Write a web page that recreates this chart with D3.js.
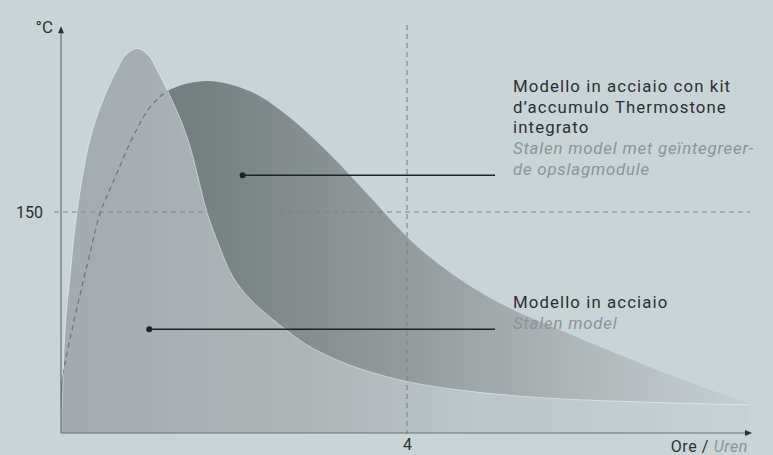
<!DOCTYPE html>
<html>
<head>
<meta charset="utf-8">
<script src="https://cdn.jsdelivr.net/npm/d3@7"></script>
<style>
  html, body { margin: 0; padding: 0; background: #c9d4d6; }
  svg { display: block; font-family: Roboto, "Noto Sans", sans-serif; }
  .it { fill: #2b3032; letter-spacing: 1.1px; }
  .nl { fill: #8a9496; font-style: italic; letter-spacing: 0.8px; }
</style>
</head>
<body>
<div class="chart"></div>
<script>
// steel stove (Modello in acciaio)
var steelHours = [0, 0.023, 0.046, 0.104, 0.185, 0.335, 0.486, 0.659, 0.74, 0.879, 1.017, 1.087, 1.283, 1.468, 1.688, 1.803, 1.988, 2.185, 2.451, 2.763, 2.96, 3.341, 3.92, 4.497, 5.31, 6.231, 7.96];
var steelTemp  = [0, 36, 70, 106, 150, 199, 226, 248, 256, 261, 256, 249, 226, 199, 150, 131, 106, 91, 77, 63, 56, 46, 36, 30, 25, 22, 19];

// steel stove with Thermostone kit
var stoneHours = [0, 0.127, 0.335, 0.451, 0.601, 0.832, 1.029, 1.26, 1.688, 2.185, 2.647, 3.11, 3.607, 4.035, 4.497, 5.075, 5.769, 6.462, 7.19, 7.96];
var stoneTemp  = [34, 70, 122, 149, 170, 201, 221, 233, 239, 232, 214, 189, 158, 131, 109, 88, 70, 53, 36, 20];

var yTicks = [150];
var xTicks = [4];

var stoneLabel = ["Modello in acciaio con kit", "d’accumulo Thermostone", "integrato"];
var stoneLabelNl = ["Stalen model met geïntegreer-", "de opslagmodule"];
var steelLabel = ["Modello in acciaio"];
var steelLabelNl = ["Stalen model"];

// leader start points [hours, temp]
var stonePointer = [2.1, 175];
var steelPointer = [1.02, 70.5];

var svgWidth = 773;
var svgHeight = 455;

var svg = d3.select(".chart")
  .append("svg")
  .attr("width", svgWidth)
  .attr("height", svgHeight);

var x = d3.scaleLinear().domain([0, 8]).range([61, 753]);
var y = d3.scaleLinear().domain([0, 280]).range([433, 20.5]);

var steel = steelHours.map((h, i) => ({h: h, t: steelTemp[i]}));
var stone = stoneHours.map((h, i) => ({h: h, t: stoneTemp[i]}));

var defs = svg.append("defs");

function grad(id, stops) {
  var g = defs.append("linearGradient")
    .attr("id", id)
    .attr("gradientUnits", "userSpaceOnUse")
    .attr("x1", x(0)).attr("x2", x(8))
    .attr("y1", 0).attr("y2", 0);
  stops.forEach(s => g.append("stop").attr("offset", s[0]).attr("stop-color", s[1]));
}
grad("stoneFill", [[0, "#727a7c"], [0.2, "#778081"], [0.5, "#939b9d"], [0.75, "#afb7b9"], [1, "#c6cfd1"]]);
grad("steelFill", [[0, "#a3abae"], [0.35, "#adb5b7"], [0.6, "#bcc5c7"], [1, "#c8d2d4"]]);

var curve = d3.curveCatmullRom.alpha(0.5);

var area = d3.area()
  .x(d => x(d.h))
  .y0(y(0))
  .y1(d => y(d.t))
  .curve(curve);

var line = d3.line()
  .x(d => x(d.h))
  .y(d => y(d.t))
  .curve(curve);

defs.append("clipPath").attr("id", "steelClip")
  .append("path").attr("d", area(steel));

svg.append("path")
  .attr("d", area(stone))
  .attr("fill", "url(#stoneFill)");

svg.append("path")
  .attr("d", area(steel))
  .attr("fill", "url(#steelFill)");

svg.append("path")
  .attr("d", line(steel))
  .attr("fill", "none")
  .attr("stroke", "rgba(255,255,255,0.45)")
  .attr("stroke-width", 1);

// hidden rising part of the thermostone curve
svg.append("path")
  .attr("d", line(stone))
  .attr("clip-path", "url(#steelClip)")
  .attr("fill", "none")
  .attr("stroke", "#6f7779")
  .attr("stroke-width", 1.3)
  .attr("stroke-dasharray", "5,4");

// reference lines
svg.selectAll(".hline").data(yTicks).enter().append("line")
  .attr("x1", 54).attr("x2", 750)
  .attr("y1", d => y(d)).attr("y2", d => y(d))
  .attr("stroke", "#7c8486").attr("stroke-width", 1.1)
  .attr("stroke-dasharray", "5,4");

svg.selectAll(".vline").data(xTicks).enter().append("line")
  .attr("x1", d => x(d)).attr("x2", d => x(d))
  .attr("y1", 25).attr("y2", 434)
  .attr("stroke", "#7c8486").attr("stroke-width", 1.1)
  .attr("stroke-dasharray", "5,4");

// axes
var bottomAxis = d3.axisBottom(x).tickValues(xTicks).tickSize(0).tickSizeOuter(0).tickPadding(6);
var leftAxis = d3.axisLeft(y).tickValues(yTicks).tickSize(0).tickSizeOuter(0).tickPadding(18);

var gx = svg.append("g").attr("transform", `translate(0,${y(0)})`).call(bottomAxis);
var gy = svg.append("g").attr("transform", `translate(${x(0)},0)`).call(leftAxis);

gx.select(".domain").attr("d", `M${x(0)},0H${x(7.92)}`);
gy.select(".domain").attr("d", `M0,${y(0)}V${y(272)}`);
[gx, gy].forEach(g => {
  g.select(".domain").attr("stroke", "#6a7274").attr("stroke-width", 1.2);
  g.selectAll("text").attr("fill", "#2b3032").attr("font-size", 16)
    .attr("font-family", "Roboto, sans-serif");
});

// arrow heads
svg.append("path")
  .attr("d", `M${x(0) - 3},${y(272) + 1}L${x(0)},${y(272) - 6}L${x(0) + 3},${y(272) + 1}Z`)
  .attr("fill", "#2b3032");
svg.append("path")
  .attr("d", `M${x(7.92) - 1},${y(0) - 3}L${x(7.92) + 6},${y(0)}L${x(7.92) - 1},${y(0) + 3}Z`)
  .attr("fill", "#2b3032");

svg.append("text")
  .attr("x", 53).attr("y", 33)
  .attr("text-anchor", "end")
  .attr("font-size", 17)
  .attr("fill", "#2b3032")
  .text("°C");

var xLabel = svg.append("text")
  .attr("x", 748).attr("y", 452)
  .attr("text-anchor", "end")
  .attr("font-size", 16);
xLabel.append("tspan").attr("class", "it").style("letter-spacing", "0.6px").text("Ore / ");
xLabel.append("tspan").attr("class", "nl").style("letter-spacing", "0.6px").text("Uren");

// annotations
function label(lines, nlLines, lastBaseline) {
  var all = lines.map(t => ({t: t, cls: "it"})).concat(nlLines.map(t => ({t: t, cls: "nl"})));
  var n = all.length;
  svg.selectAll(null).data(all).enter().append("text")
    .attr("class", d => d.cls)
    .attr("x", 513)
    .attr("y", (d, i) => lastBaseline - (n - 1 - i) * 20.8)
    .attr("font-size", 16.8)
    .text(d => d.t);
}
label(stoneLabel, stoneLabelNl, 175);
label(steelLabel, steelLabelNl, 329);

[stonePointer, steelPointer].forEach(p => {
  svg.append("line")
    .attr("x1", x(p[0])).attr("x2", 495)
    .attr("y1", y(p[1])).attr("y2", y(p[1]))
    .attr("stroke", "#1e2224").attr("stroke-width", 1.5);
  svg.append("circle")
    .attr("cx", x(p[0])).attr("cy", y(p[1]))
    .attr("r", 3).attr("fill", "#1e2224");
});
</script>
</body>
</html>
